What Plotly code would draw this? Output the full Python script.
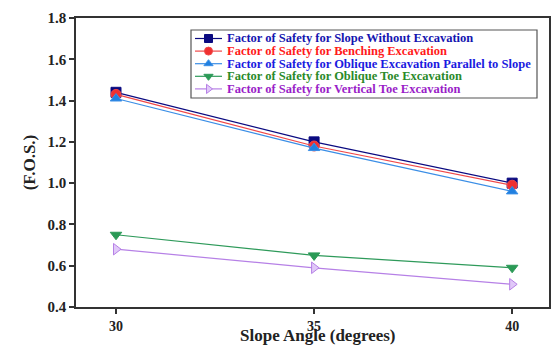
import plotly.graph_objects as go

slope_angle = [30, 35, 40]
fos_without = [1.44, 1.20, 1.00]
fos_bench = [1.43, 1.18, 0.99]
fos_oblique_parallel = [1.41, 1.17, 0.96]
fos_oblique_toe = [0.75, 0.65, 0.59]
fos_vertical_toe = [0.68, 0.59, 0.51]

series_names = [
    "Factor of Safety for Slope Without Excavation",
    "Factor of Safety for Benching Excavation",
    "Factor of Safety for Oblique Excavation Parallel to Slope",
    "Factor of Safety for Oblique Toe Excavation",
    "Factor of Safety for Vertical Toe Excavation",
]
series_values = [fos_without, fos_bench, fos_oblique_parallel, fos_oblique_toe, fos_vertical_toe]
line_colors = ["#0a0a80", "#f04848", "#3a8ee6", "#2e9a5a", "#b680e6"]
marker_fill = ["#0a0a80", "#f03030", "#2080e0", "#2a9a55", "#e0c8f8"]
text_colors = ["#1515b0", "#ff1a1a", "#1a1ae0", "#2a8a2a", "#9a1ec8"]
symbols = ["square", "circle", "triangle-up", "triangle-down", "triangle-right"]

x_title = "Slope Angle (degrees)"
y_title = "(F.O.S.)"

W, H = 555, 347
ML, MR, MT, MB = 76, 6, 18, 40
PW, PH = W - ML - MR, H - MT - MB

font_family = "Times New Roman, Liberation Serif, DejaVu Serif, serif"

fig = go.Figure()
for name, vals, lc, mf, sym in zip(series_names, series_values, line_colors, marker_fill, symbols):
    fig.add_trace(go.Scatter(
        x=slope_angle, y=vals, mode="lines+markers", name=name,
        line=dict(color=lc, width=1.2),
        marker=dict(symbol=sym, size=10, color=mf, line=dict(color=lc, width=1)),
        showlegend=False,
    ))

# manual compact legend (pixel layout converted to paper coords)
def px(xp):
    return (xp - ML) / PW

def py(yp):
    return 1 - (yp - MT) / PH

box_l, box_r, box_t, box_b = 191, 537, 30, 98
row_y0, row_dy = 38.5, 12.6
fig.add_shape(type="rect", xref="paper", yref="paper",
              x0=px(box_l), x1=px(box_r), y0=py(box_b), y1=py(box_t),
              line=dict(color="#555555", width=1.2), fillcolor="white", layer="below")
leg_x, leg_y = [], []
for i, (name, lc, tc) in enumerate(zip(series_names, line_colors, text_colors)):
    yy = row_y0 + i * row_dy
    fig.add_shape(type="line", xref="paper", yref="paper",
                  x0=px(195), x1=px(222), y0=py(yy), y1=py(yy),
                  line=dict(color=lc, width=1.2), layer="below")
    fig.add_annotation(xref="paper", yref="paper", x=px(225), y=py(yy),
                       xanchor="left", yanchor="middle", showarrow=False,
                       text=f"<b>{name}</b>",
                       font=dict(family=font_family, size=12.5, color=tc))
    leg_x.append(208.5)
    leg_y.append(yy)

fig.add_trace(go.Scatter(
    x=leg_x, y=leg_y, mode="markers", xaxis="x2", yaxis="y2",
    marker=dict(symbol=symbols, size=8, color=marker_fill,
                line=dict(color=line_colors, width=1)),
    showlegend=False, hoverinfo="skip",
))

# x-axis title placed as an annotation at the bottom edge
fig.add_annotation(xref="paper", yref="paper", x=px(318), y=py(H),
                   xanchor="center", yanchor="bottom", showarrow=False,
                   text=f"<b>{x_title}</b>",
                   font=dict(family=font_family, size=17, color="#222222"))

fig.update_layout(
    width=W, height=H,
    margin=dict(l=ML, r=MR, t=MT, b=MB, autoexpand=False),
    paper_bgcolor="white", plot_bgcolor="white",
    font=dict(family=font_family, size=12, color="#222222"),
    showlegend=False,
    xaxis=dict(
        range=[28.99, 40.93], tickvals=[30, 35, 40], automargin=False,
        ticks="outside", ticklen=5, tickwidth=1.5, tickcolor="#333333",
        showline=True, linecolor="#333333", linewidth=1.5, mirror=True,
        showgrid=False, zeroline=False,
        tickfont=dict(family=font_family, size=14, weight="bold", color="#222222"),
    ),
    yaxis=dict(
        range=[0.4, 1.8], tickvals=[0.4, 0.6, 0.8, 1.0, 1.2, 1.4, 1.6, 1.8],
        tickformat=".1f", automargin=False,
        ticks="outside", ticklen=5, tickwidth=1.5, tickcolor="#333333",
        showline=True, linecolor="#333333", linewidth=1.5, mirror=True,
        showgrid=False, zeroline=False,
        tickfont=dict(family=font_family, size=15, weight="bold", color="#222222"),
        title=dict(text=f"<b>{y_title}</b>", standoff=8,
                   font=dict(family=font_family, size=17, color="#222222")),
    ),
    xaxis2=dict(overlaying="x", range=[ML, W - MR], visible=False, fixedrange=True),
    yaxis2=dict(overlaying="y", range=[H - MB, MT], visible=False, fixedrange=True),
)

fig.write_html("out.html")
